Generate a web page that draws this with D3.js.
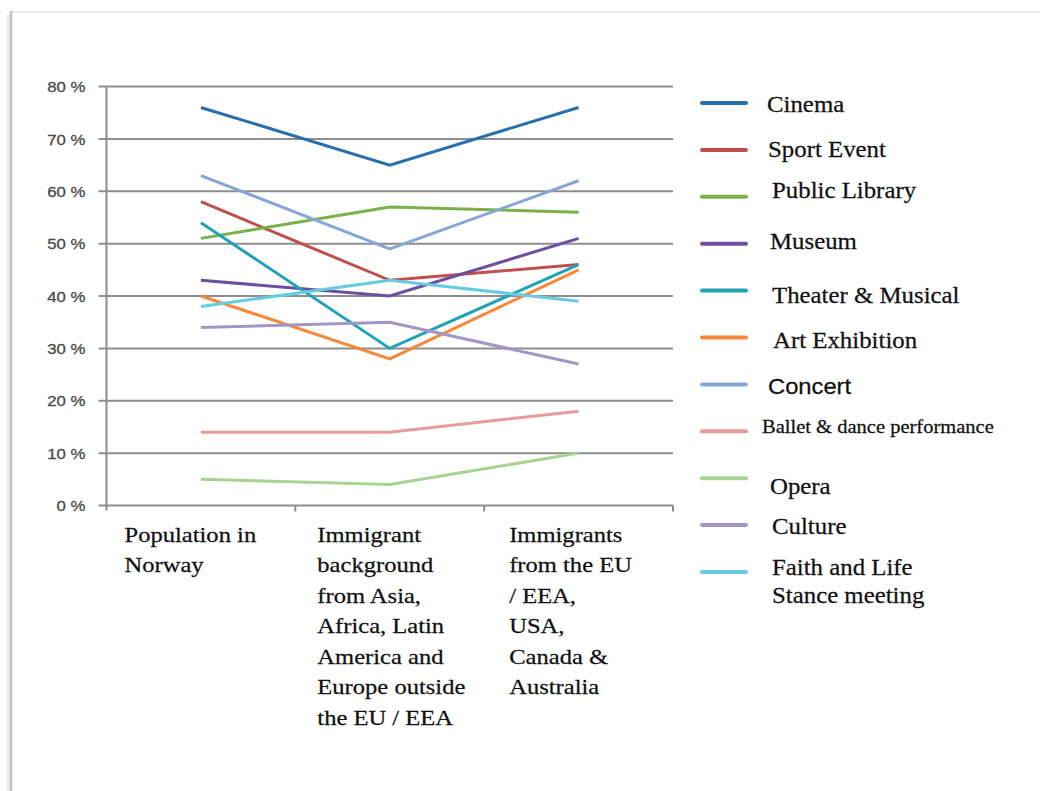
<!DOCTYPE html>
<html>
<head>
	<meta charset="utf-8">
	<title>Culture use by background</title>
	<script src="https://d3js.org/d3.v7.min.js"></script>
	<style>
		html, body { margin: 0; padding: 0; background: #fff; }
		svg { display: block; }
	</style>
</head>
<body>
	<svg id="chart" width="1040" height="791"></svg>

	<script type="text/javascript">
// categories (x axis), one label line per entry
var categories = ["Population in Norway",
                  "Immigrant background from Asia, Africa, Latin America and Europe outside the EU / EEA",
                  "Immigrants from the EU / EEA, USA, Canada & Australia"];
var categoryLines = [["Population in", "Norway"],
                     ["Immigrant", "background", "from Asia,", "Africa, Latin", "America and", "Europe outside", "the EU / EEA"],
                     ["Immigrants", "from the EU", "/ EEA,", "USA,", "Canada &", "Australia"]];

// series values, in percent
var cinema        = [76, 65, 76];
var sportEvent    = [58, 43, 46];
var publicLibrary = [51, 57, 56];
var museum        = [43, 40, 51];
var theater       = [54, 30, 46];
var artExhibition = [40, 28, 45];
var concert       = [63, 49, 62];
var ballet        = [14, 14, 18];
var opera         = [5, 4, 10];
var culture       = [34, 35, 27];
var faith         = [38, 43, 39];

var seriesNames = ["Cinema", "Sport Event", "Public Library", "Museum", "Theater & Musical",
                   "Art Exhibition", "Concert", "Ballet & dance performance", "Opera", "Culture",
                   "Faith and Life Stance meeting"];
var seriesValues = [cinema, sportEvent, publicLibrary, museum, theater, artExhibition,
                    concert, ballet, opera, culture, faith];
var yTicks = [0, 10, 20, 30, 40, 50, 60, 70, 80];

// look of the marks
var colors = ["#2a6fad", "#c0504d", "#7bb04a", "#6e4e9e", "#21a3b7", "#f7883a",
              "#86a6d6", "#e99a9b", "#a8d391", "#a295c8", "#66cce0"];
// legend text: lines, font, nudges as in the original picture
var legendLines = [["Cinema"], ["Sport Event"], ["Public Library"], ["Museum"], ["Theater & Musical"],
                   ["Art Exhibition"], ["Concert"], ["Ballet & dance performance"], ["Opera"], ["Culture"],
                   ["Faith and Life", "Stance meeting"]];
var legendDx = [65, 66, 70, 68, 70, 71, 66, 60, 68, 70, 70];
var legendDy = [9, 7, 1, 5, 12, 10, 10, 2, 16, 9, 3];
var legendSize = [23, 23, 23, 23, 23, 23, 22, 19, 23, 23, 23];
var legendSans = [false, false, false, false, false, false, true, false, false, false, false];
var labelDx = [18, 22, 25];

var svg = d3.select('#chart');
var serif = '"Liberation Serif", "Times New Roman", serif',
    sans = '"Liberation Sans", Arial, sans-serif';

// frame of the pasted picture
svg.append('line').attr('x1', 11).attr('y1', 12).attr('x2', 1040).attr('y2', 12)
   .attr('stroke', '#e4e4e4').attr('stroke-width', 1.5);
svg.append('line').attr('x1', 8.5).attr('y1', 14).attr('x2', 8.5).attr('y2', 791)
   .attr('stroke', '#ececec').attr('stroke-width', 3);
svg.append('line').attr('x1', 11).attr('y1', 11).attr('x2', 11).attr('y2', 791)
   .attr('stroke', '#c2c2c2').attr('stroke-width', 2.5);

var plotLeft = 106.5, plotRight = 673, plotTop = 86.5, plotBottom = 505.5;

var x = d3.scaleBand().domain(categories).range([plotLeft, plotRight]);
var y = d3.scaleLinear().domain([0, 80]).range([plotBottom, plotTop]);

// horizontal gridlines
svg.append('g').selectAll('line').data(yTicks).enter().append('line')
   .attr('x1', plotLeft - 8).attr('x2', plotRight)
   .attr('y1', function(d) { return y(d); })
   .attr('y2', function(d) { return y(d); })
   .attr('stroke', '#8e8e8e').attr('stroke-width', 2);

// y axis with labels
var yAxis = svg.append('g').attr('transform', 'translate(' + plotLeft + ',0)')
   .call(d3.axisLeft(y).tickValues(yTicks).tickSize(0).tickPadding(21)
         .tickFormat(function(d) { return d + ' %'; }));
yAxis.select('.domain').remove();
yAxis.selectAll('text')
   .attr('font-family', sans).attr('font-size', 15).attr('fill', '#4a4a4a')
   .attr('stroke', '#4a4a4a').attr('stroke-width', 0.3)
   .attr('x', null).attr('dy', null)
   .attr('dominant-baseline', 'central')
   .attr('transform', 'translate(-21,0) scale(1.12,1)');

svg.append('line').attr('x1', plotLeft).attr('x2', plotLeft).attr('y1', plotTop).attr('y2', plotBottom + 5)
   .attr('stroke', '#8e8e8e').attr('stroke-width', 2);

// x tick marks between the categories
svg.append('g').selectAll('line').data(categories).enter().append('line')
   .attr('x1', function(d) { return x(d) + x.bandwidth(); })
   .attr('x2', function(d) { return x(d) + x.bandwidth(); })
   .attr('y1', plotBottom).attr('y2', plotBottom + 6)
   .attr('stroke', '#8e8e8e').attr('stroke-width', 2);

// category labels
categories.forEach(function(c, i) {
  var t = svg.append('text')
     .attr('font-family', serif).attr('font-size', 21).attr('fill', '#111')
     .attr('stroke', '#111').attr('stroke-width', 0.25)
     .attr('transform', 'translate(' + (x(c) + labelDx[i]) + ',542) scale(1.17,1)');
  t.selectAll('tspan').data(categoryLines[i]).enter().append('tspan')
     .attr('x', 0).attr('y', function(d, j) { return j * 30.5; })
     .text(function(d) { return d; });
});

// lines
var line = d3.line()
   .x(function(d, i) { return x(categories[i]) + x.bandwidth() / 2; })
   .y(function(d) { return y(d); });

svg.append('g').selectAll('path').data(seriesValues).enter().append('path')
   .attr('d', line)
   .attr('fill', 'none')
   .attr('stroke', function(d, i) { return colors[i]; })
   .attr('stroke-width', 3)
   .attr('stroke-linejoin', 'miter');

// legend
var legendY = d3.scalePoint().domain(seriesNames).range([103, 572]);
var legend = svg.append('g').selectAll('g').data(seriesNames).enter().append('g')
   .attr('transform', function(d) { return 'translate(702,' + legendY(d) + ')'; });
legend.append('line')
   .attr('x1', 0).attr('x2', 44).attr('y1', 0).attr('y2', 0)
   .attr('stroke', function(d, i) { return colors[i]; })
   .attr('stroke-width', 4).attr('stroke-linecap', 'round');
legend.each(function(d, i) {
  var t = d3.select(this).append('text')
     .attr('font-family', legendSans[i] ? sans : serif)
     .attr('font-size', legendSize[i]).attr('fill', '#111')
     .attr('stroke', '#111').attr('stroke-width', 0.25)
     .attr('transform', 'translate(' + legendDx[i] + ',' + legendDy[i] + ') scale(1.08,1)');
  t.selectAll('tspan').data(legendLines[i]).enter().append('tspan')
     .attr('x', 0).attr('y', function(s, j) { return j * 28; })
     .text(function(s) { return s; });
});
	</script>
</body>
</html>
